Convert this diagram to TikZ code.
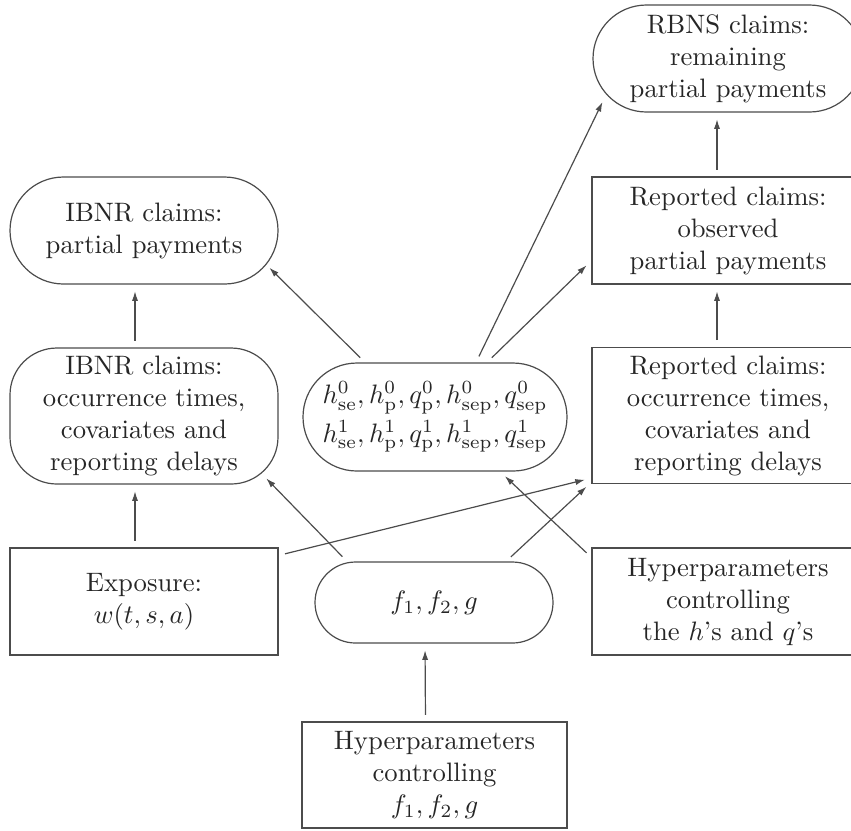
\documentclass[tikz,border=0pt]{standalone}
\usetikzlibrary{arrows.meta,shapes.misc}
\newlength\unitpx
\setlength\unitpx{0.375pt}
\begin{document}
\begin{tikzpicture}[x=0.375pt,y=-0.375pt,
  every node/.style={align=center,inner sep=0pt,text=black!85,draw=black!70,line width=0.45pt},
  boxnode/.style={rectangle},
  pill/.style={rounded rectangle},
  softbox/.style={rectangle,rounded corners=17.6pt},
  arr/.style={draw=black!70,line width=0.45pt,-{Latex[length=3.6pt,width=2.3pt]},shorten >=2.5pt,shorten <=2.5pt}]
\useasboundingbox (0,0) rectangle (851,830);
% right column
\node[pill,minimum width=270\unitpx,minimum height=107\unitpx] (rbns) at (728,58.5) {RBNS claims:\\ remaining\\ partial payments};
\node[boxnode,minimum width=272\unitpx,minimum height=107\unitpx] (reppp) at (728,230.5) {Reported claims:\\ observed\\ partial payments};
\node[boxnode,minimum width=272\unitpx,minimum height=136\unitpx] (repocc) at (728,415.5) {Reported claims:\\ occurrence times,\\ covariates and\\ reporting delays};
\node[boxnode,minimum width=272\unitpx,minimum height=107\unitpx] (hyph) at (728,601.5) {Hyperparameters\\ controlling\\ the $h$'s and $q$'s};
% left column
\node[pill,minimum width=268\unitpx,minimum height=107\unitpx] (ipp) at (144,230.5) {IBNR claims:\\ partial payments};
\node[softbox,minimum width=268\unitpx,minimum height=136\unitpx] (iocc) at (144,416) {IBNR claims:\\ occurrence times,\\ covariates and\\ reporting delays};
\node[boxnode,minimum width=268\unitpx,minimum height=107\unitpx] (expo) at (144,601.5) {Exposure:\\ $w(t,s,a)$};
% middle column
\node[pill,minimum width=264\unitpx,minimum height=108\unitpx] (hp) at (435,417) {$h^0_{\mathrm{se}}, h^0_{\mathrm{p}}, q^0_{\mathrm{p}}, h^0_{\mathrm{sep}}, q^0_{\mathrm{sep}}$\\[2.5pt] $h^1_{\mathrm{se}}, h^1_{\mathrm{p}}, q^1_{\mathrm{p}}, h^1_{\mathrm{sep}}, q^1_{\mathrm{sep}}$};
\node[pill,minimum width=238\unitpx,minimum height=81\unitpx] (f) at (434,602.5) {$f_1, f_2, g$};
\node[boxnode,minimum width=265\unitpx,minimum height=106\unitpx] (hypf) at (434.5,775) {Hyperparameters\\ controlling\\ $f_1, f_2, g$};
% connectors
\draw[arr] ([xshift=-9\unitpx]hypf.north) -- ([xshift=-9\unitpx]f.south);
\draw[arr] ([xshift=-9\unitpx]expo.north) -- ([xshift=-9\unitpx]iocc.south);
\draw[arr] ([xshift=-9\unitpx]iocc.north) -- ([xshift=-9\unitpx]ipp.south);
\draw[arr] ([yshift=-8\unitpx]expo.north east) -- ([yshift=6\unitpx]repocc.south west);
\draw[arr] ([xshift=-87\unitpx]f.north) -- ([xshift=-17\unitpx,yshift=11\unitpx]iocc.south east);
\draw[arr] ([xshift=72\unitpx]f.north) -- ([yshift=2\unitpx]repocc.south west);
\draw[arr] ([yshift=-10\unitpx]hyph.north west) -- ([xshift=65\unitpx]hp.south);
\draw[arr] ([xshift=-70\unitpx]hp.north) -- ([xshift=-14\unitpx,yshift=-32.5\unitpx]ipp.east);
\draw[arr] ([xshift=41\unitpx]hp.north) -- ([xshift=13\unitpx,yshift=-37.5\unitpx]rbns.west);
\draw[arr] ([xshift=52\unitpx]hp.north) -- ([yshift=24\unitpx]reppp.south west);
\draw[arr] ([xshift=-11\unitpx]repocc.north) -- ([xshift=-11\unitpx]reppp.south);
\draw[arr] ([xshift=-11\unitpx]reppp.north) -- ([xshift=-11\unitpx]rbns.south);
\end{tikzpicture}
\end{document}
